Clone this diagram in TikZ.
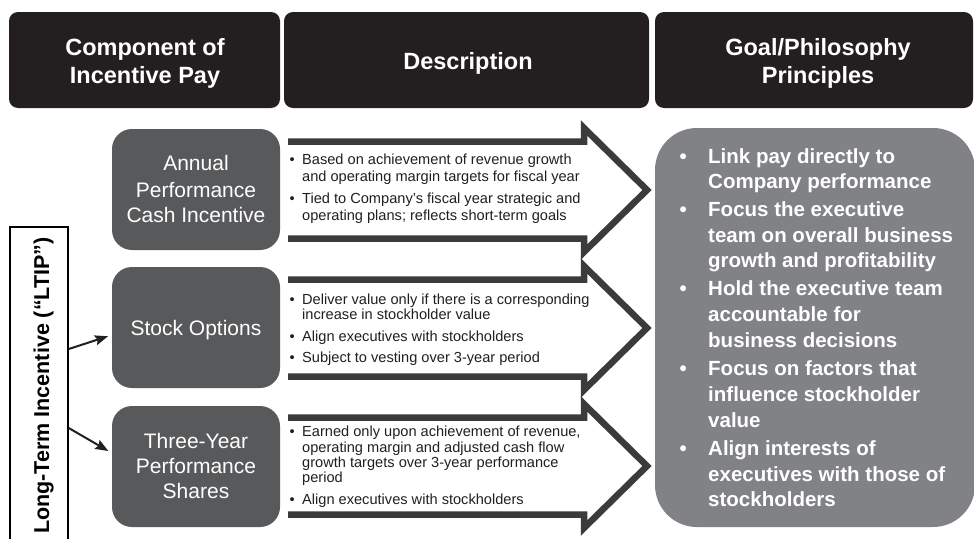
\documentclass[tikz,border=0pt]{standalone}
\usepackage{fontspec}
\setmainfont{Liberation Sans}
\usetikzlibrary{arrows.meta}
\definecolor{hdr}{HTML}{231F20}
\definecolor{comp}{HTML}{58595B}
\definecolor{goal}{HTML}{808285}
\definecolor{arr}{HTML}{3B3B3B}
\definecolor{txt}{HTML}{231F20}
\newcommand\bigarrow[1]{%
  \draw[arrowline] (288,#1-48.5) -- (584,#1-48.5) -- (584,#1-62) -- (647,#1)
     -- (584,#1+62) -- (584,#1+48.5) -- (288,#1+48.5);}
\begin{document}
\begin{tikzpicture}[x=1pt,y=-1pt,
  hdrbox/.style={fill=hdr, rounded corners=9pt, inner sep=0pt, minimum height=96pt},
  compbox/.style={fill=comp, rounded corners=20pt, inner sep=0pt, minimum width=168pt, minimum height=121pt},
  goalbox/.style={fill=goal, rounded corners=42pt, inner sep=0pt, minimum width=320pt, minimum height=399pt},
  ltipbox/.style={draw=black, line width=1.5pt, inner sep=0pt, minimum width=58pt, minimum height=318pt},
  arrowline/.style={draw=arr, line width=6.5pt, line join=miter, line cap=butt},
  conn/.style={draw=hdr, line width=2pt, -{Stealth[length=13pt,width=10pt,inset=2pt]}, shorten >=4pt},
  hdrtxt/.style={anchor=base, inner sep=0pt, text=white, font=\bfseries\fontsize{23.5}{28}\selectfont},
  comptxt/.style={anchor=base, inner sep=0pt, text=white, font=\fontsize{21}{26}\selectfont},
  desctxt/.style={anchor=base west, inner sep=0pt, text=txt, font=\fontsize{14.6}{17}\selectfont},
  goaltxt/.style={anchor=base west, inner sep=0pt, text=white, font=\bfseries\fontsize{20.5}{25}\selectfont},
  ltiptxt/.style={anchor=base, inner sep=0pt, rotate=90, text=black, font=\bfseries\fontsize{21.5}{25}\selectfont}
]
\useasboundingbox (0,0) rectangle (974,538);
\fill[white] (0,0) rectangle (974,538);

% header boxes
\node[hdrbox, minimum width=271pt] (h1) at (144.5,60) {};
\node[hdrbox, minimum width=365pt] (h2) at (466.5,60) {};
\node[hdrbox, minimum width=318pt] (h3) at (814,60) {};
\node[hdrtxt] (h1a) at (145,55) {Component of};
\node[hdrtxt] (h1b) at (145,83.5) {Incentive Pay};
\node[hdrtxt] (h2a) at (468,69) {Description};
\node[hdrtxt] (h3a) at (818,55) {Goal/Philosophy};
\node[hdrtxt] (h3b) at (818,83.5) {Principles};

% block arrows
\bigarrow{190}
\bigarrow{328}
\bigarrow{466}

% component boxes
\node[compbox] (cA) at (196,189.5) {};
\node[compbox] (cB) at (196,327.5) {};
\node[compbox] (cC) at (196,466.5) {};
\node[comptxt] (cA1) at (196,170) {Annual};
\node[comptxt] (cA2) at (196,197) {Performance};
\node[comptxt] (cA3) at (196,222) {Cash Incentive};
\node[comptxt] (cB1) at (196,335) {Stock Options};
\node[comptxt] (cC1) at (196,448) {Three-Year};
\node[comptxt] (cC2) at (196,473) {Performance};
\node[comptxt] (cC3) at (196,498) {Shares};

% goal box
\node[goalbox] (g) at (815,327.5) {};

% LTIP
\node[ltipbox] (ltip) at (39,386) {};
\node[ltiptxt] (ltipt) at (49,385.5) {Long-Term Incentive (“LTIP”)};
\draw[conn] ([yshift=37pt]ltip.east) -- ([yshift=-7.5pt]cB.west);
\draw[conn] ([yshift=-42pt]ltip.east) -- ([yshift=13.5pt]cC.west);

% description texts
\foreach \y [count=\i] in {164,203}
  \node[desctxt] (dab\i) at (289.5,\y) {\textbullet};
\foreach \y/\t [count=\i] in {164/{Based on achievement of revenue growth},
   181/{and operating margin targets for fiscal year},
   203/{Tied to Company's fiscal year strategic and},
   220/{operating plans; reflects short-term goals}}
  \node[desctxt] (da\i) at (302,\y) {\t};

\foreach \y [count=\i] in {304,341,362}
  \node[desctxt] (dbb\i) at (289.5,\y) {\textbullet};
\foreach \y/\t [count=\i] in {304/{Deliver value only if there is a corresponding},
   319/{increase in stockholder value},
   341/{Align executives with stockholders},
   362/{Subject to vesting over 3-year period}}
  \node[desctxt] (db\i) at (302,\y) {\t};

\foreach \y [count=\i] in {436,504}
  \node[desctxt] (dcb\i) at (289.5,\y) {\textbullet};
\foreach \y/\t [count=\i] in {436/{Earned only upon achievement of revenue,},
   452/{operating margin and adjusted cash flow},
   467/{growth targets over 3-year performance},
   482/{period},
   504/{Align executives with stockholders}}
  \node[desctxt] (dc\i) at (302,\y) {\t};

% goal texts
\foreach \y [count=\i] in {163,216,295,375,455}
  \node[goaltxt] (gb\i) at (679.5,\y) {\textbullet};
\foreach \y/\t [count=\i] in {163/{Link pay directly to},
   188/{Company performance},
   216/{Focus the executive},
   242/{team on overall business},
   267/{growth and profitability},
   295/{Hold the executive team},
   321/{accountable for},
   347/{business decisions},
   375/{Focus on factors that},
   401/{influence stockholder},
   427/{value},
   455/{Align interests of},
   481/{executives with those of},
   506/{stockholders}}
  \node[goaltxt] (gt\i) at (708,\y) {\t};
\end{tikzpicture}
\end{document}
